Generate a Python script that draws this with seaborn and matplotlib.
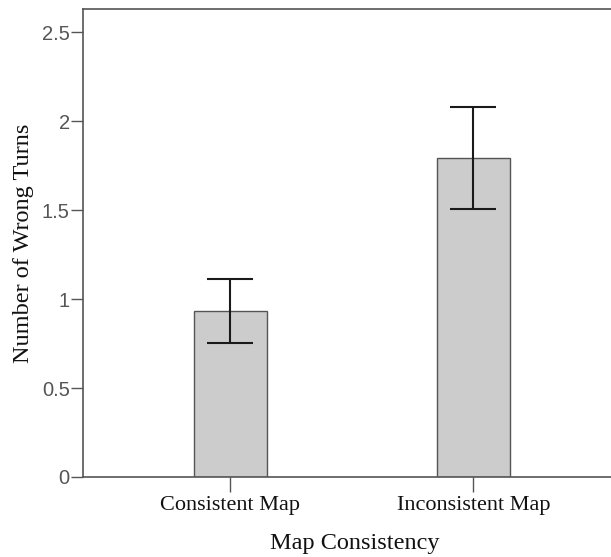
import matplotlib
matplotlib.use("Agg")
import matplotlib.pyplot as plt
import seaborn as sns
import numpy as np

categories = ["Consistent Map", "Inconsistent Map"]
means = [0.933, 1.792]
ci_low = [0.752, 1.506]
ci_high = [1.112, 2.079]
yticks = [0, 0.5, 1, 1.5, 2, 2.5]
ytick_labels = ["0", "0.5", "1", "1.5", "2", "2.5"]

sns.set_style("white")
fig = plt.figure(figsize=(6.11, 5.57), dpi=100)
ax = fig.add_axes([83/611, 1 - 477/557, 1 - 83/611, (477 - 9)/557])

sns.barplot(x=categories, y=means, ax=ax, color="#cccccc", width=0.30,
            edgecolor="#555555", linewidth=1.0, errorbar=None, saturation=1)
pos = np.arange(len(categories))
m = np.array(means)
yerr = np.vstack([m - np.array(ci_low), np.array(ci_high) - m])
ax.errorbar(pos, m, yerr=yerr, fmt="none", ecolor="#1a1a1a", elinewidth=1.5,
            capsize=16.6, capthick=1.5, zorder=5)

ax.set_xlim(-0.607, 1.566)
ax.set_ylim(0, 2.63)
ax.set_yticks(yticks)
ax.set_yticklabels(ytick_labels, fontfamily="Liberation Sans", fontsize=14.5, color="#555555")
ax.set_xticks(pos)
ax.set_xticklabels(categories, fontfamily="Liberation Serif", fontsize=16, color="#111111")
ax.tick_params(axis="y", direction="out", length=8.5, width=1, color="#555555", pad=1, left=True)
ax.tick_params(axis="x", direction="out", length=11, width=1, color="#555555", pad=3, bottom=True)

for s in ["left", "bottom", "top"]:
    ax.spines[s].set_visible(True)
    ax.spines[s].set_color("#555555")
    ax.spines[s].set_linewidth(1.2)
ax.spines["right"].set_visible(False)

ax.set_ylabel("Number of Wrong Turns", fontfamily="Liberation Serif", fontsize=17.5, color="#111111")
ax.set_xlabel("Map Consistency", fontfamily="Liberation Serif", fontsize=17.5, color="#111111")
ax.yaxis.set_label_coords((24 - 83) / 528, 0.5)
ax.yaxis.label.set_va("center")
ax.xaxis.set_label_coords(0.5 * (266 + 443) / 528 - 83 / 528, (477 - 543) / 468)
ax.xaxis.label.set_va("center")

fig.savefig("out.png", dpi=100)
